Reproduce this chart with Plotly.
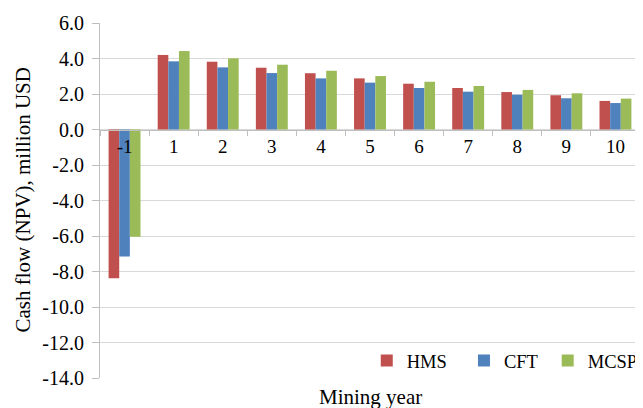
import plotly.graph_objects as go

years = ["-1", "1", "2", "3", "4", "5", "6", "7", "8", "9", "10"]
hms = [-8.38, 4.20, 3.82, 3.48, 3.17, 2.88, 2.58, 2.34, 2.11, 1.93, 1.61]
cft = [-7.16, 3.84, 3.50, 3.18, 2.88, 2.64, 2.34, 2.13, 1.96, 1.76, 1.49]
mcsp = [-6.04, 4.42, 4.01, 3.65, 3.31, 3.01, 2.69, 2.45, 2.23, 2.04, 1.74]
series = [("HMS", hms, "#C0504D"), ("CFT", cft, "#4F81BD"), ("MCSP", mcsp, "#9BBB59")]
y_ticks = [6, 4, 2, 0, -2, -4, -6, -8, -10, -12, -14]
y_ticktext = [f"{v:.1f}" for v in y_ticks]

font = "Liberation Serif, Times New Roman, serif"
legend_ids = ["legend", "legend2", "legend3"]

fig = go.Figure()
for (name, vals, col), lid in zip(series, legend_ids):
    fig.add_trace(go.Bar(x=years, y=vals, name=name, legend=lid,
                         marker=dict(color=col, line=dict(width=0))))

legend_common = dict(orientation="h", y=0.048, yanchor="middle",
                     bgcolor="rgba(255,255,255,0)", font=dict(size=18.5), itemwidth=30)

fig.update_layout(
    width=635, height=400,
    margin=dict(l=92, r=3, t=15, b=30, autoexpand=False),
    plot_bgcolor="white", paper_bgcolor="white",
    barmode="group", bargap=0.35, bargroupgap=0,
    font=dict(family=font, size=19, color="#000000"),
    showlegend=True,
    legend=dict(x=0.494, xanchor="left", **legend_common),
    legend2=dict(x=0.674, xanchor="left", **legend_common),
    legend3=dict(x=1.005, xanchor="right", **legend_common),
    xaxis=dict(type="category", anchor="free", position=0.7, showline=True, linecolor="#BFBFBF",
               linewidth=1, ticks="outside", tickson="boundaries", ticklen=5, tickcolor="#BFBFBF",
               showgrid=False, tickfont=dict(size=19), automargin=False,
               title=None),
    yaxis=dict(range=[-14, 6], tickvals=y_ticks, ticktext=y_ticktext, showline=True,
               linecolor="#BFBFBF", linewidth=1, ticks="outside", ticklen=7, tickcolor="#BFBFBF",
               gridcolor="#D9D9D9", gridwidth=1, zeroline=False, tickfont=dict(size=20),
               ticklabelstandoff=4, automargin=False, title=None),
)
fig.add_annotation(text="Cash flow (NPV), million USD", xref="paper", yref="paper", x=0, xshift=-78,
                   y=0.5, textangle=-90, showarrow=False, font=dict(size=21),
                   xanchor="center", yanchor="middle")
fig.add_annotation(text="Mining year", xref="paper", yref="paper", x=0.5, y=0, yshift=-19,
                   showarrow=False, font=dict(size=21), yanchor="middle")
fig.write_html("out.html")
